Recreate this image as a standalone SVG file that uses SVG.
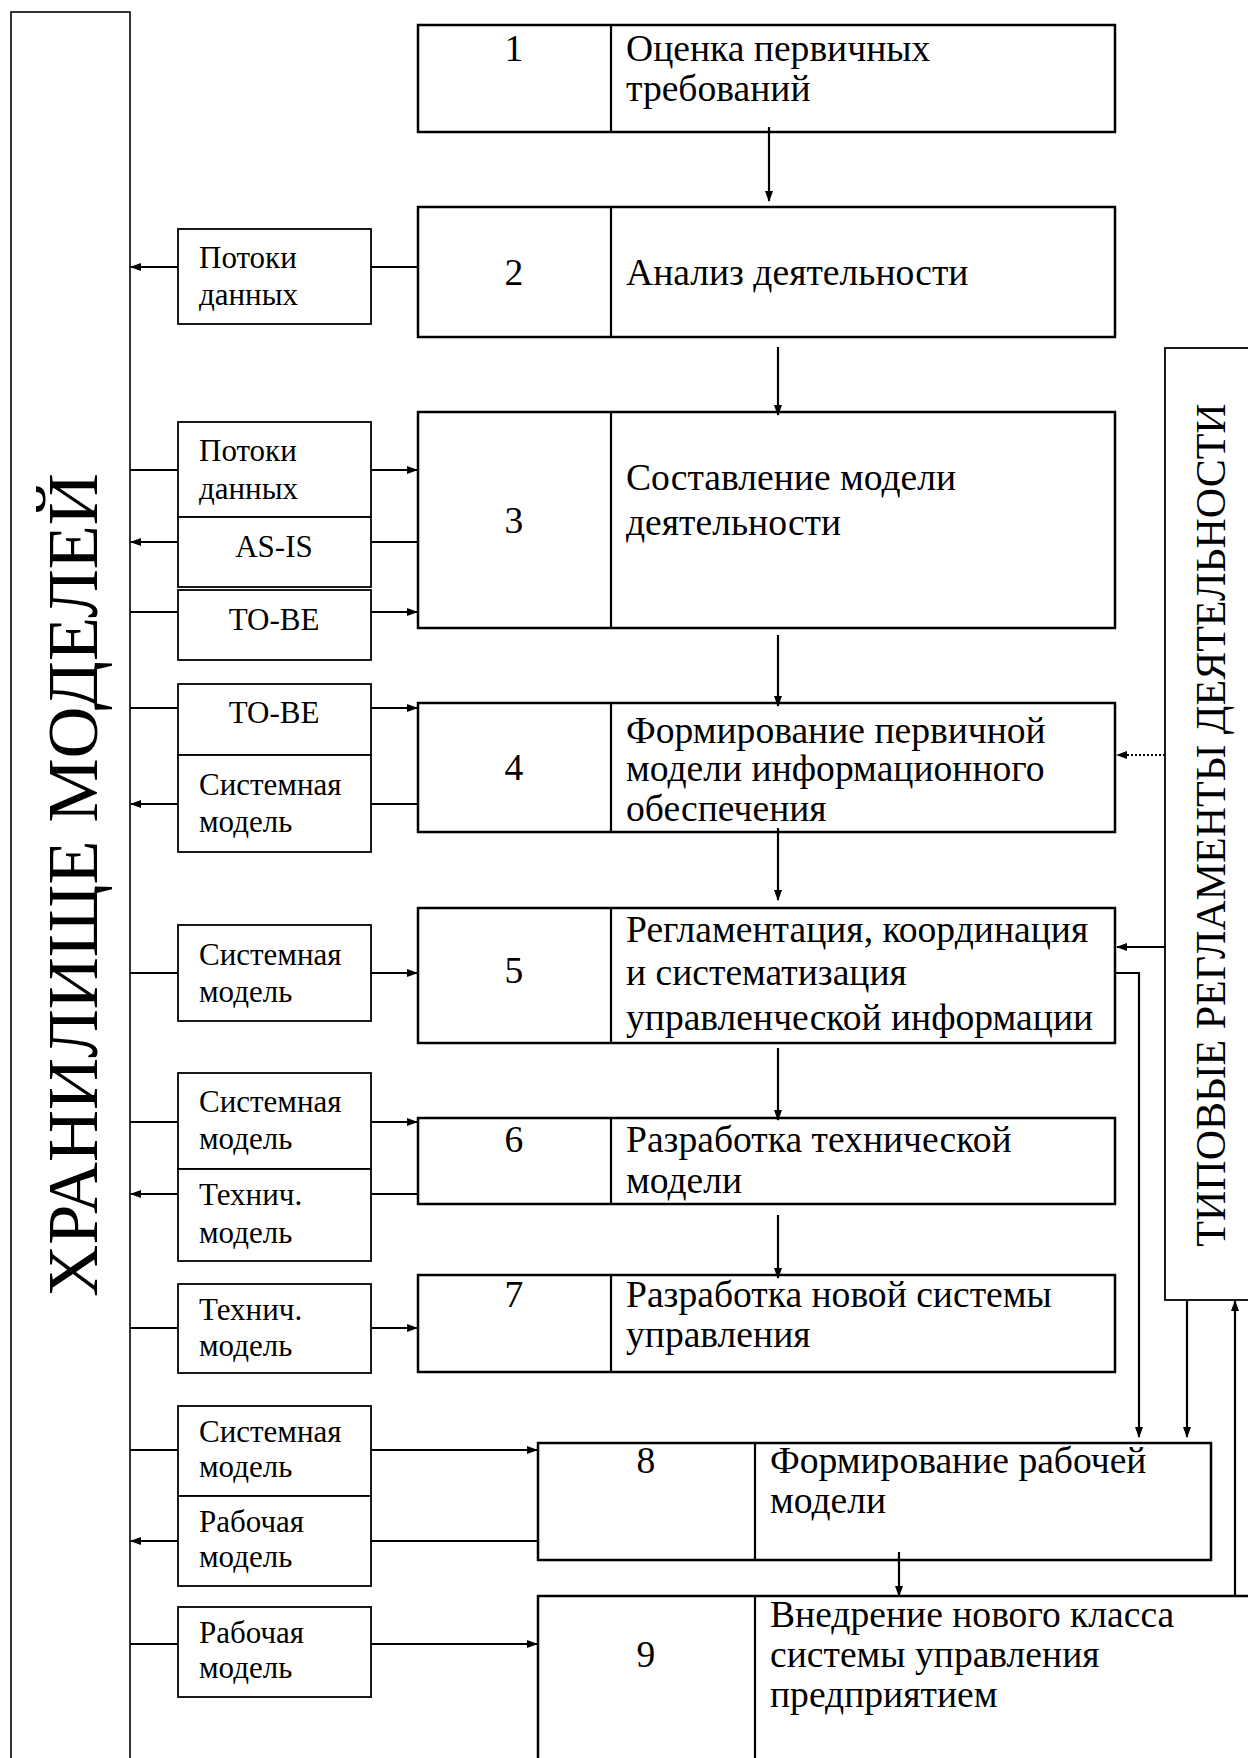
<svg xmlns="http://www.w3.org/2000/svg" width="1248" height="1758" viewBox="0 0 1248 1758">
<style>
.bg{fill:#fff}
.box{fill:#fff;stroke:#000;stroke-width:2.5}
.sbox{fill:#fff;stroke:#000;stroke-width:1.8}
.thin{fill:#fff;stroke:#000;stroke-width:1.6}
.div{stroke:#000;stroke-width:2.2}
.c{fill:none;stroke:#000;stroke-width:2.2}
.dot{fill:none;stroke:#000;stroke-width:2;stroke-dasharray:2 2}
.t{font-family:"Liberation Serif","Times New Roman",serif;font-size:37.6px;fill:#000}
.n{font-family:"Liberation Serif","Times New Roman",serif;font-size:37.6px;fill:#000;text-anchor:middle}
.s{font-family:"Liberation Serif","Times New Roman",serif;font-size:31px;fill:#000}
.sc{font-family:"Liberation Serif","Times New Roman",serif;font-size:31px;fill:#000;text-anchor:middle}
.big{font-family:"Liberation Serif","Times New Roman",serif;font-size:72px;fill:#000;text-anchor:middle}
.rt{font-family:"Liberation Serif","Times New Roman",serif;font-size:42px;fill:#000;text-anchor:middle}
</style>
<defs>
<marker id="ah" markerUnits="userSpaceOnUse" markerWidth="11" markerHeight="9" refX="10" refY="4.5" orient="auto">
<path d="M0,0.5 L11,4.5 L0,8.5 z" fill="#000"/>
</marker>
</defs>
<rect class="bg" x="0" y="0" width="1248" height="1758"/>

<g id="storage">
<rect class="thin" x="11" y="12" width="119" height="1770"/>
<text class="big" transform="translate(97,885) rotate(-90)">ХРАНИЛИЩЕ  МОДЕЛЕЙ</text>
</g>

<g id="reglaments">
<rect class="sbox" x="1165" y="348" width="100" height="952"/>
<text class="rt" transform="translate(1225,825) rotate(-90)">ТИПОВЫЕ РЕГЛАМЕНТЫ ДЕЯТЕЛЬНОСТИ</text>
</g>

<g id="n1">
<rect class="box" x="418" y="25" width="697" height="107"/>
<line class="div" x1="611" y1="25" x2="611" y2="132"/>
<text class="n" x="514" y="61">1</text>
<text class="t" x="626" y="61">Оценка первичных</text>
<text class="t" x="626" y="101">требований</text>
</g>

<g id="n2">
<rect class="box" x="418" y="207" width="697" height="130"/>
<line class="div" x1="611" y1="207" x2="611" y2="337"/>
<text class="n" x="514" y="285">2</text>
<text class="t" x="626" y="285">Анализ деятельности</text>
</g>

<g id="n3">
<rect class="box" x="418" y="412" width="697" height="216"/>
<line class="div" x1="611" y1="412" x2="611" y2="628"/>
<text class="n" x="514" y="533">3</text>
<text class="t" x="626" y="490">Составление модели</text>
<text class="t" x="626" y="535">деятельности</text>
</g>

<g id="n4">
<rect class="box" x="418" y="703" width="697" height="129"/>
<line class="div" x1="611" y1="703" x2="611" y2="832"/>
<text class="n" x="514" y="780">4</text>
<text class="t" x="626" y="743">Формирование первичной</text>
<text class="t" x="626" y="781">модели информационного</text>
<text class="t" x="626" y="821">обеспечения</text>
</g>

<g id="n5">
<rect class="box" x="418" y="908" width="697" height="135"/>
<line class="div" x1="611" y1="908" x2="611" y2="1043"/>
<text class="n" x="514" y="983">5</text>
<text class="t" x="626" y="942">Регламентация, координация</text>
<text class="t" x="626" y="985">и систематизация</text>
<text class="t" x="626" y="1030">управленческой информации</text>
</g>

<g id="n6">
<rect class="box" x="418" y="1118" width="697" height="86"/>
<line class="div" x1="611" y1="1118" x2="611" y2="1204"/>
<text class="n" x="514" y="1152">6</text>
<text class="t" x="626" y="1152">Разработка технической</text>
<text class="t" x="626" y="1193">модели</text>
</g>

<g id="n7">
<rect class="box" x="418" y="1275" width="697" height="97"/>
<line class="div" x1="611" y1="1275" x2="611" y2="1372"/>
<text class="n" x="514" y="1307">7</text>
<text class="t" x="626" y="1307">Разработка новой системы</text>
<text class="t" x="626" y="1347">управления</text>
</g>

<g id="n8">
<rect class="box" x="538" y="1443" width="673" height="117"/>
<line class="div" x1="755" y1="1443" x2="755" y2="1560"/>
<text class="n" x="646" y="1473">8</text>
<text class="t" x="770" y="1473">Формирование рабочей</text>
<text class="t" x="770" y="1513">модели</text>
</g>

<g id="n9">
<rect class="box" x="538" y="1596" width="730" height="180"/>
<line class="div" x1="755" y1="1596" x2="755" y2="1776"/>
<text class="n" x="646" y="1667">9</text>
<text class="t" x="770" y="1627">Внедрение нового класса</text>
<text class="t" x="770" y="1667">системы управления</text>
<text class="t" x="770" y="1707">предприятием</text>
</g>

<g id="d2a">
<rect class="sbox" x="178" y="229" width="193" height="95"/>
<text class="s" x="199" y="268">Потоки</text>
<text class="s" x="199" y="305">данных</text>
</g>
<g id="d3a">
<rect class="sbox" x="178" y="422" width="193" height="95"/>
<text class="s" x="199" y="461">Потоки</text>
<text class="s" x="199" y="499">данных</text>
</g>
<g id="d3b">
<rect class="sbox" x="178" y="517" width="193" height="70"/>
<text class="sc" x="274" y="557">AS-IS</text>
</g>
<g id="d3c">
<rect class="sbox" x="178" y="590" width="193" height="70"/>
<text class="sc" x="274" y="630">TO-BE</text>
</g>
<g id="d4a">
<rect class="sbox" x="178" y="684" width="193" height="71"/>
<text class="sc" x="274" y="723">TO-BE</text>
</g>
<g id="d4b">
<rect class="sbox" x="178" y="755" width="193" height="97"/>
<text class="s" x="199" y="795">Системная</text>
<text class="s" x="199" y="832">модель</text>
</g>
<g id="d5a">
<rect class="sbox" x="178" y="925" width="193" height="96"/>
<text class="s" x="199" y="965">Системная</text>
<text class="s" x="199" y="1002">модель</text>
</g>
<g id="d6a">
<rect class="sbox" x="178" y="1073" width="193" height="96"/>
<text class="s" x="199" y="1112">Системная</text>
<text class="s" x="199" y="1149">модель</text>
</g>
<g id="d6b">
<rect class="sbox" x="178" y="1169" width="193" height="92"/>
<text class="s" x="199" y="1205">Технич.</text>
<text class="s" x="199" y="1243">модель</text>
</g>
<g id="d7a">
<rect class="sbox" x="178" y="1284" width="193" height="89"/>
<text class="s" x="199" y="1320">Технич.</text>
<text class="s" x="199" y="1356">модель</text>
</g>
<g id="d8a">
<rect class="sbox" x="178" y="1406" width="193" height="90"/>
<text class="s" x="199" y="1442">Системная</text>
<text class="s" x="199" y="1477">модель</text>
</g>
<g id="d8b">
<rect class="sbox" x="178" y="1496" width="193" height="90"/>
<text class="s" x="199" y="1532">Рабочая</text>
<text class="s" x="199" y="1567">модель</text>
</g>
<g id="d9a">
<rect class="sbox" x="178" y="1607" width="193" height="90"/>
<text class="s" x="199" y="1643">Рабочая</text>
<text class="s" x="199" y="1678">модель</text>
</g>

<g id="connectors">
<line class="c" x1="769" y1="127" x2="769" y2="201" marker-end="url(#ah)"/>
<line class="c" x1="778" y1="347" x2="778" y2="415" marker-end="url(#ah)"/>
<line class="c" x1="778" y1="635" x2="778" y2="706" marker-end="url(#ah)"/>
<line class="c" x1="778" y1="828" x2="778" y2="900" marker-end="url(#ah)"/>
<line class="c" x1="778" y1="1048" x2="778" y2="1120" marker-end="url(#ah)"/>
<line class="c" x1="778" y1="1215" x2="778" y2="1278" marker-end="url(#ah)"/>
<line class="c" x1="899" y1="1552" x2="899" y2="1596" marker-end="url(#ah)"/>

<line class="c" x1="418" y1="267" x2="371" y2="267"/>
<line class="c" x1="178" y1="267" x2="131" y2="267" marker-end="url(#ah)"/>

<line class="c" x1="130" y1="470" x2="178" y2="470"/>
<line class="c" x1="371" y1="470" x2="417" y2="470" marker-end="url(#ah)"/>
<line class="c" x1="418" y1="542" x2="371" y2="542"/>
<line class="c" x1="178" y1="542" x2="131" y2="542" marker-end="url(#ah)"/>
<line class="c" x1="130" y1="612" x2="178" y2="612"/>
<line class="c" x1="371" y1="612" x2="417" y2="612" marker-end="url(#ah)"/>

<line class="c" x1="130" y1="708" x2="178" y2="708"/>
<line class="c" x1="371" y1="708" x2="417" y2="708" marker-end="url(#ah)"/>
<line class="c" x1="418" y1="804" x2="371" y2="804"/>
<line class="c" x1="178" y1="804" x2="131" y2="804" marker-end="url(#ah)"/>

<line class="c" x1="130" y1="973" x2="178" y2="973"/>
<line class="c" x1="371" y1="973" x2="417" y2="973" marker-end="url(#ah)"/>

<line class="c" x1="130" y1="1122" x2="178" y2="1122"/>
<line class="c" x1="371" y1="1122" x2="417" y2="1122" marker-end="url(#ah)"/>
<line class="c" x1="418" y1="1194" x2="371" y2="1194"/>
<line class="c" x1="178" y1="1194" x2="131" y2="1194" marker-end="url(#ah)"/>

<line class="c" x1="130" y1="1328" x2="178" y2="1328"/>
<line class="c" x1="371" y1="1328" x2="417" y2="1328" marker-end="url(#ah)"/>

<line class="c" x1="130" y1="1450" x2="178" y2="1450"/>
<line class="c" x1="371" y1="1450" x2="537" y2="1450" marker-end="url(#ah)"/>
<line class="c" x1="538" y1="1541" x2="371" y2="1541"/>
<line class="c" x1="178" y1="1541" x2="131" y2="1541" marker-end="url(#ah)"/>

<line class="c" x1="130" y1="1644" x2="178" y2="1644"/>
<line class="c" x1="371" y1="1644" x2="537" y2="1644" marker-end="url(#ah)"/>

<line class="dot" x1="1165" y1="755" x2="1117" y2="755" marker-end="url(#ah)"/>
<line class="c" x1="1165" y1="947" x2="1117" y2="947" marker-end="url(#ah)"/>
<polyline class="c" points="1115,973 1139,973 1139,1437" marker-end="url(#ah)"/>
<line class="c" x1="1187" y1="1300" x2="1187" y2="1437" marker-end="url(#ah)"/>
<line class="c" x1="1235" y1="1596" x2="1235" y2="1301" marker-end="url(#ah)"/>
</g>
</svg>
